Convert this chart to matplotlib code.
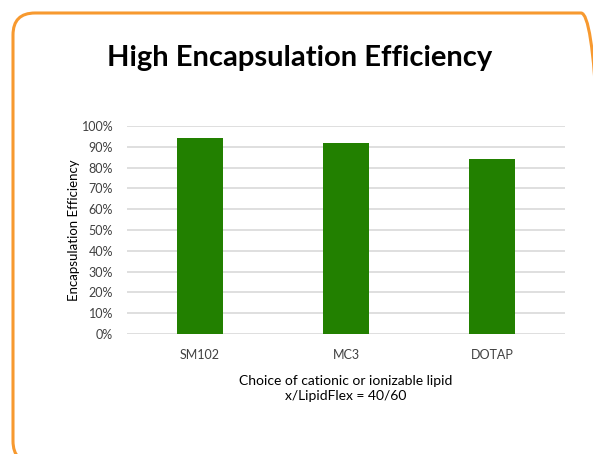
import numpy as np
import matplotlib
matplotlib.use('Agg')
import matplotlib.pyplot as plt
from matplotlib.patches import FancyBboxPatch
from matplotlib.ticker import PercentFormatter

plt.rcParams['font.family'] = ['Lato', 'DejaVu Sans']

lipids = ['SM102', 'MC3', 'DOTAP']
efficiency = [0.94, 0.92, 0.84]
yticks = np.arange(0, 1.01, 0.1)

fig = plt.figure(figsize=(5.93, 4.54), dpi=100)

# orange rounded frame (inches), partly running off the right and bottom edges
frame = FancyBboxPatch((0.13, -0.09), 5.9, 4.41 + 0.09,
                       boxstyle='round,pad=0,rounding_size=0.22',
                       transform=fig.dpi_scale_trans, fill=False,
                       edgecolor='#f7992f', linewidth=2.2)
fig.patches.append(frame)

fig.text(0.506, 0.873, 'High Encapsulation Efficiency', ha='center', va='center',
         fontsize=21, fontweight='bold', color='black')

ax = fig.add_axes([127 / 593, (454 - 334) / 454, 438 / 593, 208 / 454])
x = np.arange(len(lipids))
ax.bar(x, efficiency, width=0.315, color='#228000', zorder=3)

ax.set_xlim(-0.5, len(lipids) - 0.5)
ax.set_ylim(0, 1)
ax.set_yticks(yticks)
ax.yaxis.set_major_formatter(PercentFormatter(1.0, decimals=0))
ax.set_xticks(x)
ax.set_xticklabels(lipids)
ax.tick_params(length=0, labelsize=9, colors='#404040')
ax.tick_params(axis='x', pad=11)
ax.tick_params(axis='y', pad=10)
ax.grid(axis='y', color='#d9d9d9', linewidth=1.2, zorder=0)
for s in ax.spines.values():
    s.set_visible(False)

ax.set_ylabel('Encapsulation Efficiency', fontsize=9.5, color='black', labelpad=1)
ax.set_xlabel('Choice of cationic or ionizable lipid\nx/LipidFlex = 40/60',
              fontsize=10, color='black', labelpad=10, linespacing=1.25)

fig.savefig('out.png', dpi=100)
